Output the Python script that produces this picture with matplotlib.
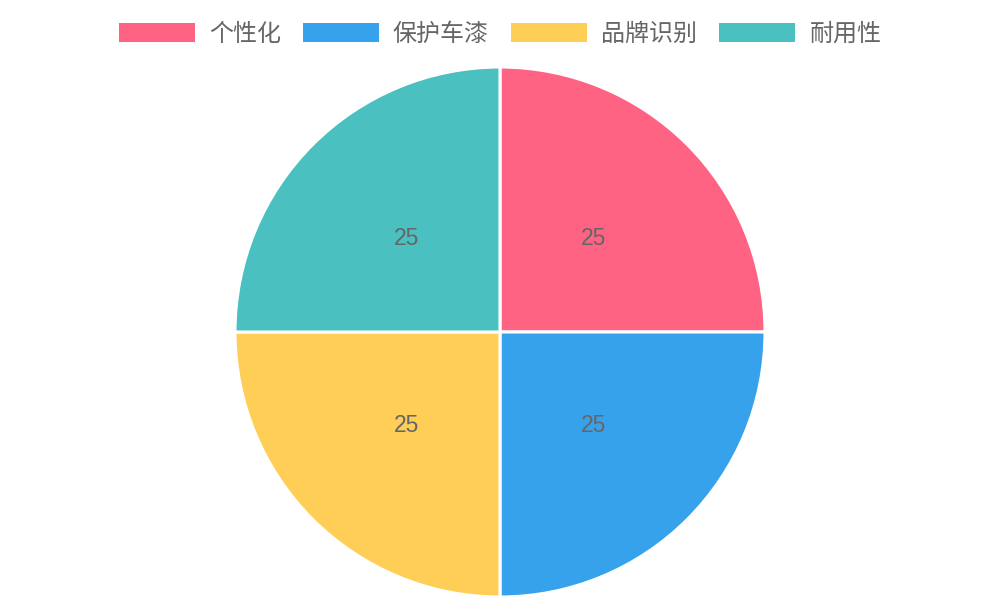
import matplotlib
matplotlib.use('Agg')
import matplotlib.pyplot as plt
from matplotlib.patches import Patch

plt.rcParams['font.family'] = ['Noto Sans CJK SC', 'DejaVu Sans']

labels = ['个性化', '保护车漆', '品牌识别', '耐用性']
values = [25, 25, 25, 25]
colors = ['#FF6384', '#36A2EB', '#FFCE56', '#4BC0C0']

fig = plt.figure(figsize=(10, 6), dpi=100)
# pie centred at (500, 332) px, radius 265 px
ax = fig.add_axes([235 / 1000, 3 / 600, 530 / 1000, 530 / 600])

wedges, texts, autotexts = ax.pie(
    values, colors=colors, startangle=90, counterclock=False, radius=1,
    autopct=lambda p: '%d' % round(p * sum(values) / 100),
    pctdistance=0.5,
    wedgeprops=dict(edgecolor='white', linewidth=2.2),
    textprops=dict(color='#666666', fontsize=16.5, family='Liberation Sans'))
ax.set_xlim(-1, 1)
ax.set_ylim(-1, 1)
ax.set_aspect('equal')
ax.axis('off')

handles = [Patch(facecolor=c, edgecolor='none') for c in colors]
leg = fig.legend(handles, labels, loc='center', bbox_to_anchor=(0.5, 1 - 34 / 600),
                 ncol=4, frameon=False, fontsize=17.3,
                 handlelength=3.17, handleheight=0.83, handletextpad=0.58,
                 columnspacing=0.92, borderaxespad=0)
for t in leg.get_texts():
    t.set_color('#666666')

fig.savefig('out.png', dpi=100)
